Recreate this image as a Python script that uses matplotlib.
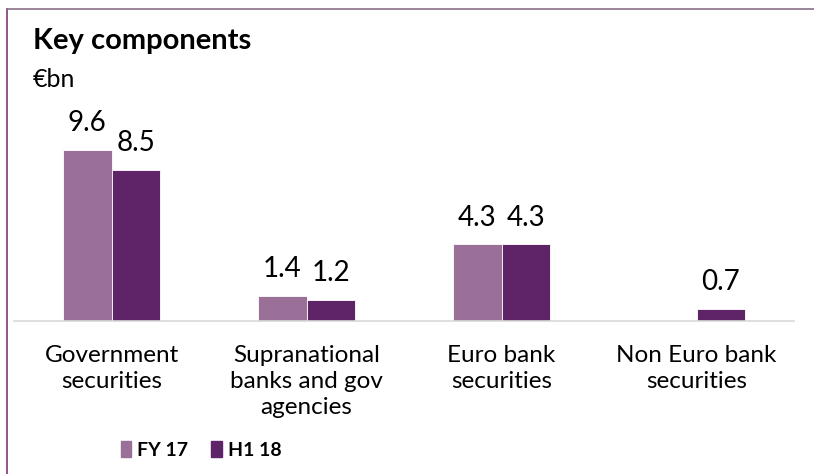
import numpy as np
import matplotlib
matplotlib.use('Agg')
import matplotlib.pyplot as plt
from matplotlib.lines import Line2D
from matplotlib.patches import Patch

categories = ['Government\nsecurities', 'Supranational\nbanks and gov\nagencies',
              'Euro bank\nsecurities', 'Non Euro bank\nsecurities']
fy17 = [9.6, 1.4, 4.3, None]
h118 = [8.5, 1.2, 4.3, 0.7]
series_names = ['FY 17', 'H1 18']
colors = ['#9A7099', '#5F2468']

plt.rcParams['font.family'] = ['Lato', 'DejaVu Sans']

W, H = 814, 474
fig = plt.figure(figsize=(W / 100, H / 100), dpi=100)

# axes: baseline at y=321px, top at y=100px, x from 14 to 794
ax = fig.add_axes([14 / W, (H - 321) / H, 780 / W, 221 / H])
x = np.arange(len(categories))
bw = 0.25

for i, (vals, off) in enumerate([(fy17, -bw / 2), (h118, bw / 2)]):
    for xi, v in zip(x, vals):
        if v is None:
            continue
        ax.bar(xi + off, v, width=bw, color=colors[i], edgecolor='white', linewidth=0.6)
        ax.annotate('{:.1f}'.format(v), (xi + off, v), xytext=(0, 10),
                    textcoords='offset points', ha='center', va='bottom', fontsize=20)

ax.set_xlim(-0.5, 3.5)
ax.set_ylim(0, 221 / 17.8)
ax.set_xticks(x)
ax.set_xticklabels(categories, fontsize=17.5, linespacing=1.3)
ax.tick_params(axis='x', length=0, pad=17)
ax.set_yticks([])
for s in ['top', 'right', 'left']:
    ax.spines[s].set_visible(False)
ax.spines['bottom'].set_color('#D9D9D9')
ax.spines['bottom'].set_linewidth(1.2)

fig.text(33 / W, 1 - 41 / H, 'Key components', fontsize=21, fontweight='bold', va='center', ha='left')
fig.text(33 / W, 1 - 80 / H, '€bn', fontsize=18, va='center', ha='left')

handles = [Patch(color=c) for c in colors]
fig.legend(handles, series_names, loc='center left', bbox_to_anchor=(103 / W, 1 - 450 / H),
           ncol=2, frameon=False, prop={'weight': 'bold', 'size': 14},
           handlelength=0.55, handleheight=0.85, handletextpad=0.3, columnspacing=1.2)

# border lines (left and top)
fig.add_artist(Line2D([7 / W, 7 / W], [0, 1 - 9 / H], color='#7A3A78', linewidth=1.2))
fig.add_artist(Line2D([7 / W, 1], [1 - 9 / H, 1 - 9 / H], color='#8C7088', linewidth=1.2))

fig.savefig('out.png', dpi=100)
